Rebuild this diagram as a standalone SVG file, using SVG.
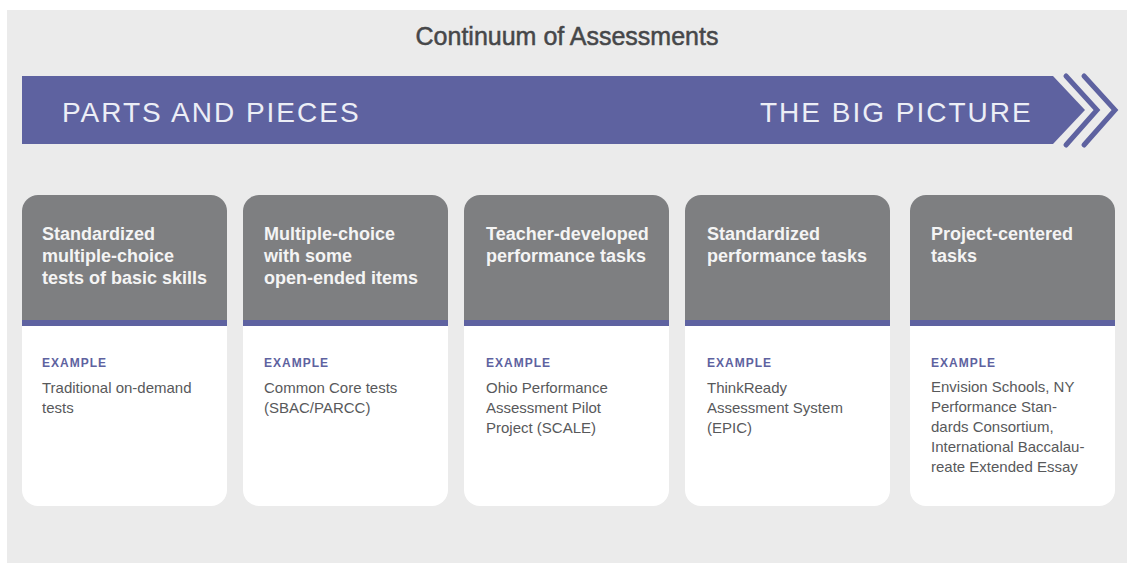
<svg xmlns="http://www.w3.org/2000/svg" width="1127" height="563" viewBox="0 0 1127 563">
  <style>
    .title { font-family: "Liberation Sans", Arial, sans-serif; font-size: 25px; fill: #464749; stroke: #464749; stroke-width: 0.5px; text-anchor: middle; }
    .band { font-family: "Liberation Sans", Arial, sans-serif; font-size: 28px; letter-spacing: 2px; fill: #eceef6; }
    .head { font-family: "Liberation Sans", Arial, sans-serif; font-size: 18px; font-weight: bold; fill: #f4f4f4; }
    .ex { font-family: "Liberation Sans", Arial, sans-serif; font-size: 12px; font-weight: bold; letter-spacing: 1px; fill: #5e62a0; }
    .body { font-family: "Liberation Sans", Arial, sans-serif; font-size: 15px; fill: #58595b; }
    .card { fill: #ffffff; }
    .cap { fill: #7e7f81; }
    .stripe { fill: #5e62a0; }
    .chev { fill: none; stroke: #5e62a0; stroke-width: 5; stroke-linecap: round; stroke-linejoin: miter; }
  </style>
  <defs>
    <!-- one card: white body, grey heading block with rounded top, purple divider -->
    <g id="cardShape">
      <rect class="card" x="0" y="0" width="205" height="311" rx="16" ry="16"/>
      <path class="cap" d="M0,125 V16 A16,16 0 0 1 16,0 H189 A16,16 0 0 1 205,16 V125 Z"/>
      <rect class="stripe" x="0" y="125" width="205" height="6"/>
    </g>
  </defs>

  <!-- page background -->
  <rect x="0" y="0" width="1127" height="563" fill="#ffffff"/>
  <rect x="7" y="10" width="1120" height="553" fill="#ebebeb"/>

  <text class="title" x="567" y="45">Continuum of Assessments</text>

  <!-- continuum arrow -->
  <g id="continuum">
    <polygon points="22,76 1053,76 1085,110 1053,144 22,144" fill="#5e62a0"/>
    <polyline class="chev" points="1066,76 1097,110 1066,145"/>
    <polyline class="chev" points="1084,76 1115,110 1084,145"/>
    <text class="band" x="62" y="122">PARTS AND PIECES</text>
    <text class="band" x="760" y="122">THE BIG PICTURE</text>
  </g>

  <g id="connectors"></g>

  <g id="card1" transform="translate(22,195)">
    <use href="#cardShape"/>
    <text class="head" x="20" y="45">Standardized</text>
    <text class="head" x="20" y="67">multiple-choice</text>
    <text class="head" x="20" y="89">tests of basic skills</text>
    <text class="ex" x="20" y="172">EXAMPLE</text>
    <text class="body" x="20" y="198">Traditional on-demand</text>
    <text class="body" x="20" y="218">tests</text>
  </g>

  <g id="card2" transform="translate(243,195)">
    <use href="#cardShape"/>
    <text class="head" x="21" y="45">Multiple-choice</text>
    <text class="head" x="21" y="67">with some</text>
    <text class="head" x="21" y="89">open-ended items</text>
    <text class="ex" x="21" y="172">EXAMPLE</text>
    <text class="body" x="21" y="198">Common Core tests</text>
    <text class="body" x="21" y="218">(SBAC/PARCC)</text>
  </g>

  <g id="card3" transform="translate(464,195)">
    <use href="#cardShape"/>
    <text class="head" x="22" y="45">Teacher-developed</text>
    <text class="head" x="22" y="67">performance tasks</text>
    <text class="ex" x="22" y="172">EXAMPLE</text>
    <text class="body" x="22" y="198">Ohio Performance</text>
    <text class="body" x="22" y="218">Assessment Pilot</text>
    <text class="body" x="22" y="238">Project (SCALE)</text>
  </g>

  <g id="card4" transform="translate(685,195)">
    <use href="#cardShape"/>
    <text class="head" x="22" y="45">Standardized</text>
    <text class="head" x="22" y="67">performance tasks</text>
    <text class="ex" x="22" y="172">EXAMPLE</text>
    <text class="body" x="22" y="198">ThinkReady</text>
    <text class="body" x="22" y="218">Assessment System</text>
    <text class="body" x="22" y="238">(EPIC)</text>
  </g>

  <g id="card5" transform="translate(910,195)">
    <use href="#cardShape"/>
    <text class="head" x="21" y="45">Project-centered</text>
    <text class="head" x="21" y="67">tasks</text>
    <text class="ex" x="21" y="172">EXAMPLE</text>
    <text class="body" x="21" y="197">Envision Schools, NY</text>
    <text class="body" x="21" y="217">Performance Stan-</text>
    <text class="body" x="21" y="237">dards Consortium,</text>
    <text class="body" x="21" y="257">International Baccalau-</text>
    <text class="body" x="21" y="277">reate Extended Essay</text>
  </g>
</svg>
